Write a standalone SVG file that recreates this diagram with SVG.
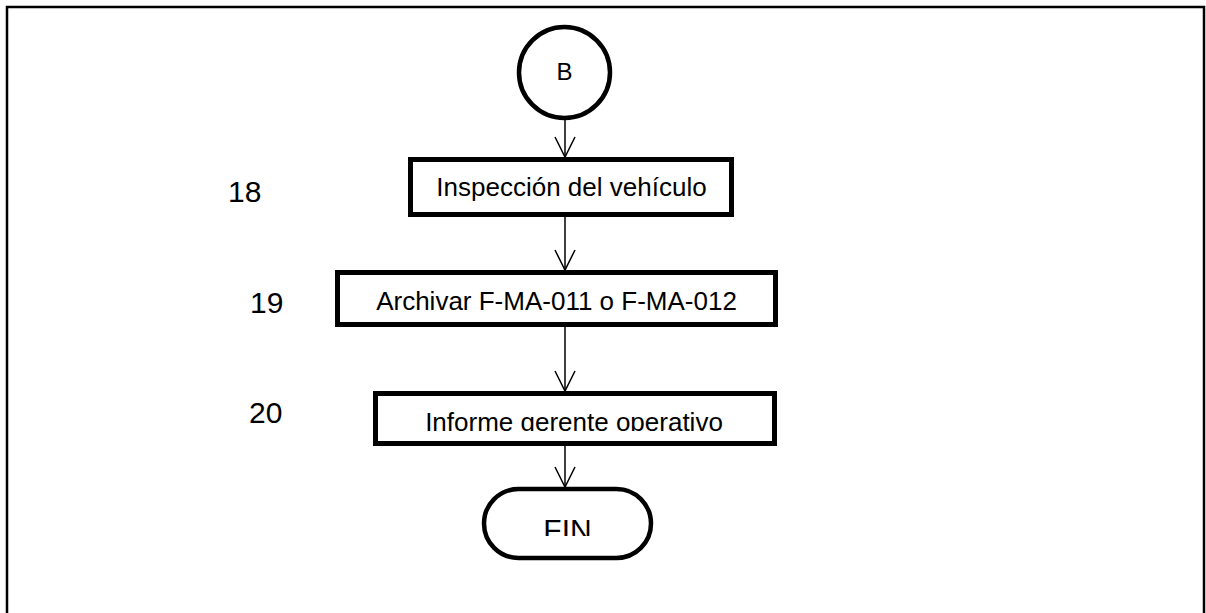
<svg xmlns="http://www.w3.org/2000/svg" width="1206" height="613" viewBox="0 0 1206 613">
  <style>
    .box { fill: #ffffff; stroke: #000000; stroke-width: 5; }
    .term { fill: #ffffff; stroke: #000000; stroke-width: 4.5; }
    .lbl { font-family: "Liberation Sans", Arial, sans-serif; font-size: 26px; fill: #000000; text-anchor: middle; }
    .num { font-family: "Liberation Sans", Arial, sans-serif; font-size: 30px; fill: #000000; }
    .edge { fill: none; stroke: #000000; stroke-width: 1.5; }
  </style>
  <defs>
    <!-- open V arrowhead, drawn along +x so orient="auto" follows the line -->
    <marker id="open-arrow" markerUnits="userSpaceOnUse" markerWidth="24" markerHeight="24" viewBox="-22 -12 24 24" refX="0" refY="0" orient="auto">
      <path d="M -20 -10 L 0 0 L -20 10" fill="none" stroke="#000000" stroke-width="1.5"/>
    </marker>
    <clipPath id="clip-informe"><rect x="370" y="380" width="410" height="51"/></clipPath>
    <clipPath id="clip-fin"><rect x="480" y="480" width="180" height="56"/></clipPath>
  </defs>

  <rect width="1206" height="613" fill="#ffffff"/>
  <!-- page frame (bottom edge runs off the sheet) -->
  <rect x="7" y="7" width="1197" height="640" fill="none" stroke="#000000" stroke-width="2.5"/>

  <g id="node-B">
    <circle class="term" cx="564.5" cy="72.5" r="45.5"/>
    <text x="564.5" y="80" font-family="Liberation Sans, Arial, sans-serif" font-size="24" text-anchor="middle">B</text>
  </g>

  <g id="node-18">
    <text class="num" x="228" y="202">18</text>
    <rect class="box" x="410.5" y="159.5" width="321" height="55"/>
    <text class="lbl" x="571.5" y="196">Inspección del vehículo</text>
  </g>

  <g id="node-19">
    <text class="num" x="250" y="313">19</text>
    <rect class="box" x="337.5" y="272.5" width="438" height="52"/>
    <text class="lbl" x="556.5" y="310">Archivar F-MA-011 o F-MA-012</text>
  </g>

  <g id="node-20">
    <text class="num" x="249" y="423">20</text>
    <rect class="box" x="375.5" y="393.5" width="399" height="50"/>
    <text class="lbl" x="574" y="431" clip-path="url(#clip-informe)">Informe gerente operativo</text>
  </g>

  <g id="node-FIN">
    <rect class="term" x="484" y="489" width="167" height="69" rx="34.5" ry="34.5"/>
    <text x="567.5" y="539.5" font-family="Liberation Sans, Arial, sans-serif" font-size="30" text-anchor="middle" clip-path="url(#clip-fin)">FIN</text>
  </g>

  <g id="connectors">
    <path class="edge" d="M 565 120 V 157" marker-end="url(#open-arrow)"/>
    <path class="edge" d="M 565 217 V 270" marker-end="url(#open-arrow)"/>
    <path class="edge" d="M 565 327 V 391" marker-end="url(#open-arrow)"/>
    <path class="edge" d="M 565 446 V 487" marker-end="url(#open-arrow)"/>
  </g>
</svg>
